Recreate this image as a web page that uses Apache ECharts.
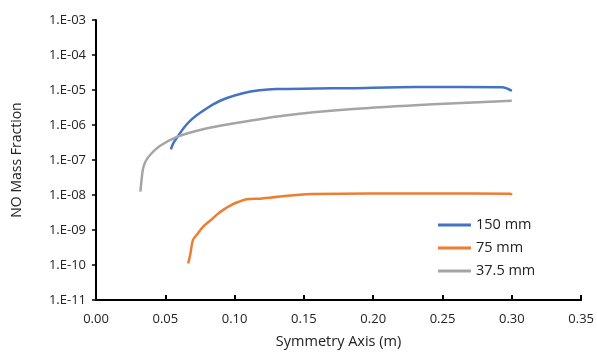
<!DOCTYPE html>
<html>
<head>
<meta charset="utf-8">
<script src="https://cdn.jsdelivr.net/npm/echarts@6/dist/echarts.min.js"></script>
<style>
  html, body { margin: 0; padding: 0; background: #fff; }
  #chart { width: 597px; height: 354px; }
</style>
</head>
<body>
<div id="chart"></div>
<script>
// series names
var names = ['150 mm', '75 mm', '37.5 mm'];

// 150 mm
var x150 = [0.054, 0.0557, 0.0593, 0.064, 0.069, 0.0749, 0.0845, 0.094, 0.106, 0.118, 0.130, 0.159, 0.183, 0.231, 0.293, 0.300];
var y150 = [2.0e-7, 3.0e-7, 4.9e-7, 8.9e-7, 1.45e-6, 2.2e-6, 3.9e-6, 5.8e-6, 8.1e-6, 9.8e-6, 1.07e-5, 1.1e-5, 1.13e-5, 1.22e-5, 1.2e-5, 9.5e-6];

// 75 mm
var x75 = [0.0665, 0.068, 0.070, 0.0735, 0.0773, 0.082, 0.087, 0.0915, 0.0965, 0.1025, 0.1086, 0.120, 0.156, 0.240, 0.299, 0.300];
var y75 = [1.1e-10, 2.0e-10, 5.2e-10, 8.0e-10, 1.25e-9, 1.8e-9, 2.7e-9, 3.7e-9, 4.9e-9, 6.3e-9, 7.6e-9, 8.0e-9, 1.07e-8, 1.1e-8, 1.08e-8, 1.0e-8];

// 37.5 mm
var x37 = [0.032, 0.033, 0.034, 0.036, 0.039, 0.046, 0.058, 0.075, 0.099, 0.135, 0.183, 0.243, 0.300];
var y37 = [1.25e-8, 3.0e-8, 5.8e-8, 9.5e-8, 1.39e-7, 2.5e-7, 4.5e-7, 7.2e-7, 1.1e-6, 1.85e-6, 2.8e-6, 3.9e-6, 4.9e-6];

var colors = ['#4472C4', '#ED7D31', '#A5A5A5'];

function pairs(xs, ys) {
    var out = [];
    for (let i = 0; i < xs.length; i++) {
        out.push([xs[i], ys[i]]);
    }
    return out;
}

var dom = document.getElementById('chart');
var myChart = echarts.init(dom);
var font = 'Open Sans';

var option = {
    animation: false,
    color: colors,
    grid: { left: 96, right: 15, top: 20, bottom: 54 },
    legend: {
        orient: 'vertical',
        left: 433,
        top: 212,
        icon: 'rect',
        itemWidth: 33,
        itemHeight: 3,
        itemGap: 7,
        textStyle: { fontFamily: font, fontSize: 14.5, color: '#222', lineHeight: 16 },
        data: names
    },
    xAxis: {
        type: 'value',
        min: 0,
        max: 0.35,
        interval: 0.05,
        name: 'Symmetry Axis (m)',
        nameLocation: 'middle',
        nameGap: 34,
        nameTextStyle: { fontFamily: font, fontSize: 14.5, color: '#222' },
        axisLine: { onZero: false, lineStyle: { color: '#000', width: 2 } },
        axisTick: { inside: true, length: 5, lineStyle: { color: '#000', width: 2 } },
        axisLabel: {
            fontFamily: font, fontSize: 13, color: '#222', margin: 13,
            formatter: function (v) { return v.toFixed(2); }
        },
        splitLine: { show: false }
    },
    yAxis: {
        type: 'log',
        logBase: 10,
        min: 1e-11,
        max: 1e-3,
        splitNumber: 8,
        name: 'NO Mass Fraction',
        nameLocation: 'middle',
        nameGap: 72,
        nameTextStyle: { fontFamily: font, fontSize: 14, color: '#222' },
        axisLine: { show: true, lineStyle: { color: '#000', width: 2 } },
        axisTick: { show: true, length: 4, lineStyle: { color: '#000', width: 1.5 } },
        axisLabel: {
            fontFamily: font, fontSize: 13, color: '#222', margin: 10,
            formatter: function (v) {
                var e = Math.round(Math.log10(v));
                var a = Math.abs(e);
                return '1.E' + (e < 0 ? '-' : '+') + (a < 10 ? '0' + a : a);
            }
        },
        splitLine: { show: false }
    },
    series: [
        { name: names[0], type: 'line', data: pairs(x150, y150), showSymbol: false, smooth: 0.3, lineStyle: { width: 2.5 } },
        { name: names[1], type: 'line', data: pairs(x75, y75), showSymbol: false, smooth: 0.3, lineStyle: { width: 2.5 } },
        { name: names[2], type: 'line', data: pairs(x37, y37), showSymbol: false, smooth: 0.3, lineStyle: { width: 2.5 } }
    ]
};

if (option && typeof option === 'object') {
    myChart.setOption(option, true);
}
</script>
</body>
</html>
